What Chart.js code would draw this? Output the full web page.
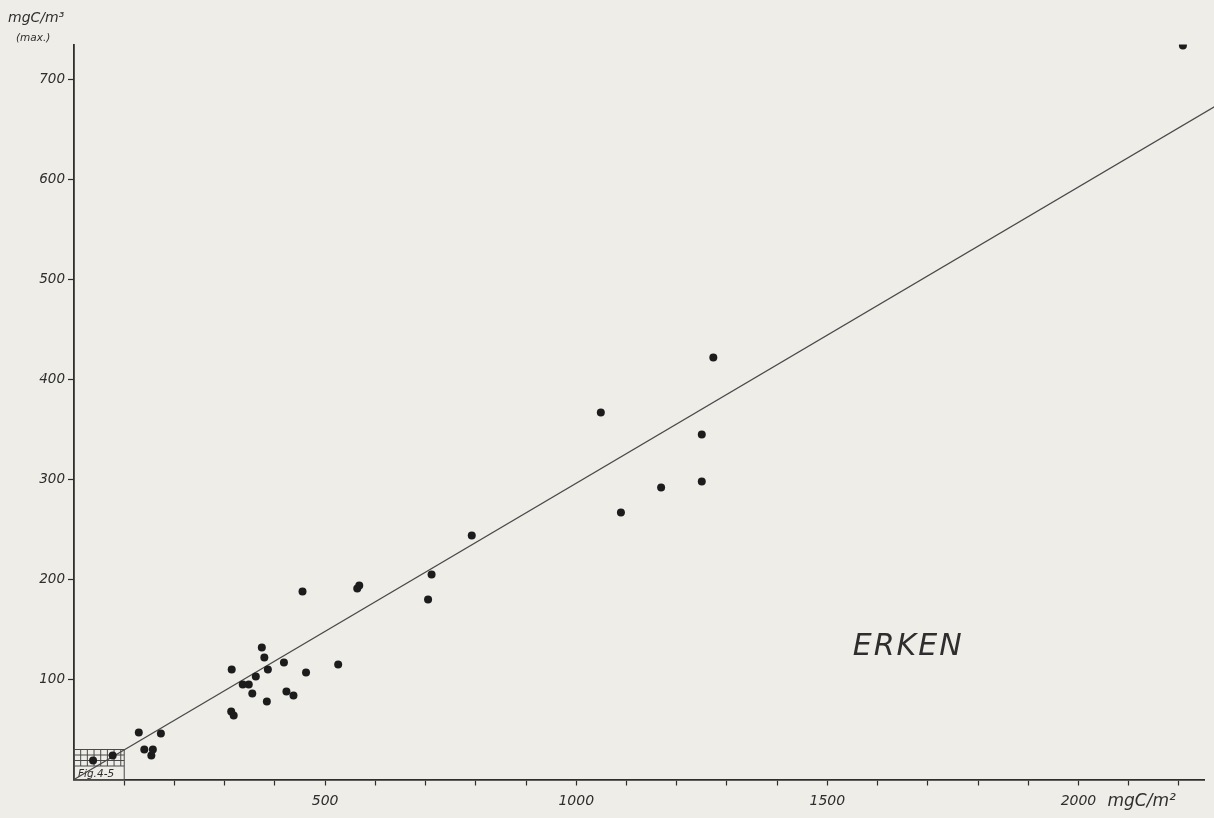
<!DOCTYPE html>
<html>
<head>
<meta charset="utf-8">
<script src="https://cdn.jsdelivr.net/npm/chart.js@4.4.1/dist/chart.umd.min.js"></script>
<style>
  html, body { margin: 0; padding: 0; background: #eeede8; }
  #wrap { width: 1214px; height: 818px; }
</style>
</head>
<body>
<div id="wrap"><canvas id="graph_erken"></canvas></div>
<script>
// Erken : production (mgC/m2) vs valeur max (mgC/m3)
const prodM2 = [2208, 1273, 1049, 1250, 1250, 1169, 1089, 792, 712, 705, 564, 568, 455, 526,
    462, 437, 423, 418, 386, 384, 379, 374, 362, 355, 348, 336, 314, 313, 318,
    129, 173, 140, 157, 154, 38, 77];
const maxM3 = [734, 422, 367, 345, 298, 292, 267, 244, 205, 180, 191, 194, 188, 115,
    107, 84, 88, 117, 110, 78, 122, 132, 103, 86, 95, 95, 110, 68, 64,
    47, 46, 30, 30, 24, 19, 24];

// droite de regression (passe par l'origine)
const droiteX = [0, 2272];
const droiteY = [0, 673];

const xLabels = [500, 1000, 1500, 2000];
const yLabels = [100, 200, 300, 400, 500, 600, 700];

const points = prodM2.map((x, i) => ({ x, y: maxM3[i] }));
const droite = droiteX.map((x, i) => ({ x, y: droiteY[i] }));

const ink = '#2e2e2e';
const font = '"DejaVu Sans", sans-serif';

// textes + petit cadre "Fig.4-5"
const decor = {
    id: 'decor',
    beforeDatasetsDraw(chart) {
        const { ctx, scales: { x, y } } = chart;
        const x0 = x.getPixelForValue(0), x1 = x.getPixelForValue(100);
        const yTop = y.getPixelForValue(30), yTxt = y.getPixelForValue(13.5), y0 = y.getPixelForValue(0);
        ctx.save();
        ctx.strokeStyle = '#4a4a4a';
        ctx.lineWidth = 1;
        ctx.strokeRect(x0, yTop, x1 - x0, y0 - yTop);
        ctx.beginPath();
        [24.5, 19, 13.5].forEach(v => {
            const py = y.getPixelForValue(v);
            ctx.moveTo(x0, py); ctx.lineTo(x1, py);
        });
        for (let v = 13.3; v < 100; v += 13.3) {
            const px = x.getPixelForValue(v);
            ctx.moveTo(px, yTop); ctx.lineTo(px, yTxt);
        }
        ctx.stroke();
        ctx.fillStyle = ink;
        ctx.font = 'italic 10.5px ' + font;
        ctx.textBaseline = 'alphabetic';
        ctx.fillText('Fig.4-5', x0 + 4, y0 - 3);
        ctx.restore();
    },
    afterDraw(chart) {
        const { ctx, scales: { x, y } } = chart;
        ctx.save();
        ctx.fillStyle = ink;
        ctx.textBaseline = 'alphabetic';
        ctx.textAlign = 'left';
        ctx.font = 'italic 14px ' + font;
        ctx.fillText('mgC/m³', 8, 22);
        ctx.font = 'italic 10.5px ' + font;
        ctx.fillText('(max.)', 16, 41);
        ctx.font = 'italic 17px ' + font;
        ctx.fillText('mgC/m²', x.getPixelForValue(2000) + 29, 806);
        ctx.font = 'italic 300 30px ' + font;
        ctx.letterSpacing = '2px';
        ctx.textAlign = 'center';
        ctx.textBaseline = 'middle';
        ctx.fillText('ERKEN', x.getPixelForValue(1661), y.getPixelForValue(132));
        ctx.restore();
    }
};

new Chart(document.getElementById('graph_erken'), {
    type: 'scatter',
    data: {
        datasets: [{
            data: points,
            pointRadius: 4,
            pointHoverRadius: 4,
            backgroundColor: '#1c1c1c',
            borderWidth: 0
        }, {
            data: droite,
            showLine: true,
            pointRadius: 0,
            borderColor: '#4a4a4a',
            borderWidth: 1.3,
            fill: false,
            clip: false
        }]
    },
    options: {
        responsive: true,
        maintainAspectRatio: false,
        animation: false,
        devicePixelRatio: 1,
        layout: { padding: { top: 44.5, right: 10, left: 0, bottom: 0 } },
        plugins: {
            legend: { display: false },
            tooltip: { enabled: false }
        },
        scales: {
            x: {
                type: 'linear',
                min: 0,
                max: 2250,
                afterFit: s => { s.height = 38.5; },
                border: { color: ink, width: 1.8 },
                grid: {
                    drawOnChartArea: false,
                    tickLength: 6,
                    tickWidth: 1.2,
                    tickColor: c => c.tick && c.tick.value === 0 ? 'rgba(0,0,0,0)' : ink
                },
                ticks: {
                    stepSize: 100,
                    includeBounds: false,
                    maxRotation: 0,
                    autoSkip: false,
                    padding: 7,
                    color: ink,
                    font: { family: font, size: 14, style: 'italic' },
                    callback: v => xLabels.includes(v) ? String(v) : ''
                }
            },
            y: {
                type: 'linear',
                min: 0,
                max: 735,
                afterFit: s => { s.width = 74; },
                border: { color: ink, width: 1.8 },
                grid: {
                    drawOnChartArea: false,
                    tickLength: 6,
                    tickWidth: 1.2,
                    tickColor: c => c.tick && c.tick.value === 0 ? 'rgba(0,0,0,0)' : ink
                },
                ticks: {
                    stepSize: 100,
                    includeBounds: false,
                    autoSkip: false,
                    padding: 3,
                    color: ink,
                    font: { family: font, size: 13.5, style: 'italic' },
                    callback: v => yLabels.includes(v) ? String(v) : ''
                }
            }
        }
    },
    plugins: [decor]
});
</script>
</body>
</html>
